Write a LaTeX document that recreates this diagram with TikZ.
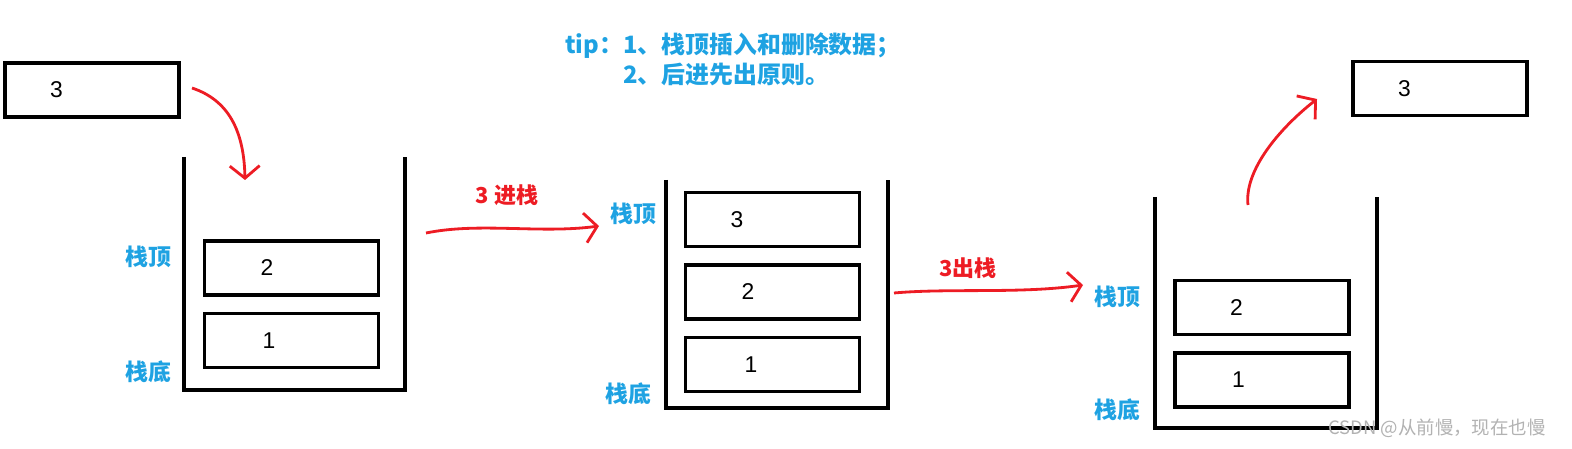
\documentclass[tikz,border=0pt]{standalone}
\usepackage{fontspec}
\setmainfont{Liberation Sans}
\newfontfamily\cjk{Noto Sans CJK SC}
\usetikzlibrary{positioning, arrows.meta}
\definecolor{tipblue}{RGB}{30,162,226}
\definecolor{penred}{RGB}{237,28,36}

\begin{document}
\begin{tikzpicture}[x=0.02cm, y=-0.02cm, node distance=0.3cm, cell/.style={draw, line width=2pt, minimum height=1.08cm, inner xsep=0.9cm, text width=1.68cm, align=left, font=\fontsize{13}{15}\selectfont}, wall/.style={line width=1.9pt}, tag/.style={text=tipblue, font=\cjk\bfseries\fontsize{13}{17}\selectfont}, note/.style={text=penred, font=\cjk\bfseries\fontsize{12.5}{15}\selectfont}, pen/.style={penred, line width=1.6pt, -{Straight Barb[length=7pt, width=17pt]}}]
      \useasboundingbox (0,0) rectangle (1572,449);

      % stacks
      \draw[wall] (184,157) |- (405,390) -- (405,157);
      \draw[wall] (666,180) |- (888,408) -- (888,180);
      \draw[wall] (1155,197) |- (1377,428) -- (1377,197);

      \node[cell] (src) at (92,90) {3};
      \node[cell] (a2) at (291.5,268) {\hspace*{0.22cm}2}; \node[cell, below=of
      a2] (a1) {\hspace*{0.26cm}1};
      \node[cell] (b3) at (772.5,219.5) {3}; \node[cell, below=of b3] (b2)
      {\hspace*{0.22cm}2}; \node[cell, below=of b2] (b1) {\hspace*{0.28cm}1};
      \node[cell] (c2) at (1262,307.5) {\hspace*{0.2cm}2}; \node[cell, below=of
      c2] (c1) {\hspace*{0.24cm}1};
      \node[cell] (dst) at (1440,88.5) {3};

      \node[tag] (top1) at (148,257) {栈顶}; \node[tag] (bot1) at (148,372) {栈底};
      \node[tag] (top2) at (633,214) {栈顶}; \node[tag] (bot2) at (628,394) {栈底};
      \node[tag] (top3) at (1117,297) {栈顶}; \node[tag] (bot3) at (1117,410) {栈底};
      \node[tag, align=left, font=\cjk\bfseries\fontsize{13.6}{17}\selectfont]
      (tip) at (733,61) {tip：1、栈顶插入和删除数据；\\
      \phantom{tip：}2、后进先出原则。};

      \node[note] (push) at (507,195) {3 进栈}; \node[note] (pop) at (968,268)
      {3出栈};

      % hand drawn arrows
      \coordinate (in0) at (192,88); \coordinate (in1) at (245,180);
      \coordinate (p0) at (426,233); \coordinate (p1) at (599,226);
      \coordinate (q0) at (894,293); \coordinate (q1) at (1083,285);
      \coordinate (out0) at (1248,205); \coordinate (out1) at (1317,99);
      \draw[pen] (in0) .. controls (228,100) and (244,130) .. (in1);
      \draw[pen] (p0) .. controls (480,222) and (540,234) .. (p1);
      \draw[pen] (q0) .. controls (950,288) and (1020,294) .. (q1);
      \draw[pen] (out0) .. controls (1244,170) and (1280,128) .. (out1);

      \node[text=gray!60, font=\cjk\fontsize{10.5}{12}\selectfont] (mark) at
      (1437,428) {CSDN @从前慢，现在也慢};
    \end{tikzpicture}
\end{document}
